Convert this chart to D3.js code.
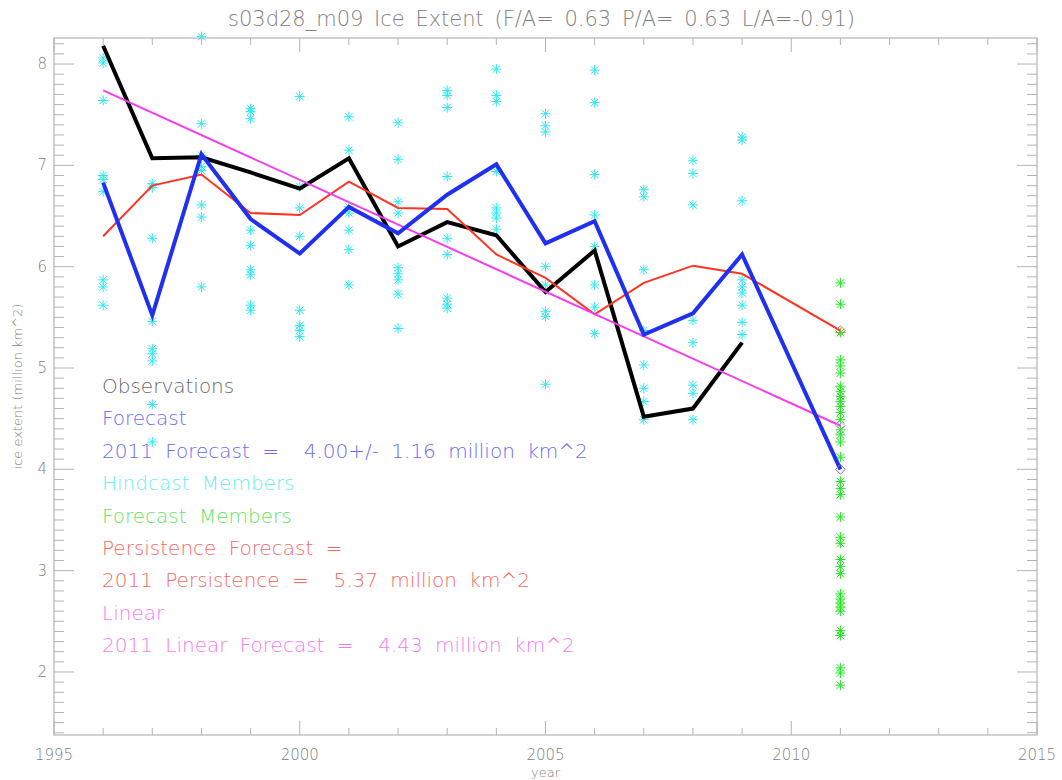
<!DOCTYPE html>
<html>
<head>
<meta charset="utf-8">
<script src="https://cdn.jsdelivr.net/npm/d3@7"></script>
<style>
  body { margin: 0; background: #fff; }
  text { font-family: "DejaVu Sans", sans-serif; font-weight: 200; }
</style>
</head>
<body>
<div id="graph"></div>
<script>
// values
const years = [1996, 1997, 1998, 1999, 2000, 2001, 2002, 2003, 2004, 2005, 2006, 2007, 2008, 2009];
const observed = [8.18, 7.07, 7.08, 6.93, 6.77, 7.07, 6.20, 6.44, 6.31, 5.75, 6.16, 4.52, 4.60, 5.25];
const forecastYears = [1996, 1997, 1998, 1999, 2000, 2001, 2002, 2003, 2004, 2005, 2006, 2007, 2008, 2009, 2011];
const forecast = [6.83, 5.52, 7.11, 6.47, 6.13, 6.59, 6.33, 6.71, 7.01, 6.23, 6.45, 5.33, 5.54, 6.12, 4.00];
const persistence = [6.30, 6.80, 6.91, 6.53, 6.51, 6.84, 6.58, 6.57, 6.12, 5.89, 5.53, 5.84, 6.01, 5.93, 5.37];
const linearYears = [1996, 2011];
const linear = [7.74, 4.43];

const hindcastMembers = [
  [8.06, 8.01, 7.64, 6.90, 6.86, 6.74, 5.87, 5.80, 5.62],
  [6.82, 6.78, 6.28, 5.46, 5.19, 5.14, 5.07, 4.64, 4.27],
  [8.27, 7.41, 7.10, 6.99, 6.95, 6.61, 6.49, 5.80],
  [7.56, 7.53, 7.46, 6.36, 6.21, 5.97, 5.92, 5.62, 5.57],
  [7.68, 6.79, 6.58, 6.30, 5.57, 5.42, 5.37, 5.31],
  [7.48, 7.15, 6.59, 6.53, 6.36, 6.17, 5.82],
  [7.42, 7.06, 6.64, 6.53, 5.99, 5.93, 5.87, 5.73, 5.39],
  [7.74, 7.69, 7.57, 6.89, 6.28, 6.12, 5.69, 5.63, 5.59],
  [7.95, 7.69, 7.63, 6.94, 6.58, 6.53, 6.48, 6.37],
  [7.51, 7.39, 7.33, 6.00, 5.82, 5.56, 5.51, 4.84],
  [7.94, 7.62, 6.91, 6.51, 6.20, 5.82, 5.60, 5.34],
  [6.76, 6.69, 5.97, 5.37, 5.03, 4.80, 4.67, 4.49],
  [7.05, 6.92, 6.61, 5.47, 5.25, 4.83, 4.75, 4.49],
  [7.28, 7.25, 6.65, 5.87, 5.80, 5.74, 5.62, 5.45, 5.33]
];
const forecastYear = 2011;
const forecastMembers = [5.84, 5.63, 5.35, 5.08, 5.02, 4.95, 4.82, 4.77, 4.72, 4.67, 4.62, 4.56, 4.49,
  4.39, 4.34, 4.27, 4.12, 3.88, 3.81, 3.75, 3.53, 3.33, 3.27, 3.11, 3.04, 2.97, 2.77, 2.72, 2.68,
  2.64, 2.60, 2.41, 2.36, 2.04, 1.99, 1.87];

const title = "s03d28_m09 Ice Extent (F/A= 0.63 P/A= 0.63 L/A=-0.91)";
const legendLines = [
  ["Observations", "#6a6a6a"],
  ["Forecast", "#6c6cf0"],
  ["2011 Forecast =  4.00+/- 1.16 million km^2", "#6c6cf0"],
  ["Hindcast Members", "#66f0f0"],
  ["Forecast Members", "#5ee65e"],
  ["Persistence Forecast =", "#f66a62"],
  ["2011 Persistence =  5.37 million km^2", "#f66a62"],
  ["Linear", "#f47af0"],
  ["2011 Linear Forecast =  4.43 million km^2", "#f47af0"]
];

let margin = {top: 38, right: 25, bottom: 45, left: 54},
    width = 1062 - margin.left - margin.right,
    height = 780 - margin.top - margin.bottom;

let svg = d3.select("#graph").append("svg")
    .attr("width", 1062)
    .attr("height", 780);

let x = d3.scaleLinear().domain([1995, 2015]).range([0, width]);
let y = d3.scaleLinear().domain([1.378, 8.257]).range([height, 0]);

let g = svg.append("g")
    .attr("transform", "translate(" + margin.left + "," + margin.top + ")");

// frame and ticks (IDL style, ticks pointing inward on all four sides)
const axisColor = "#b4b4b4";
g.append("rect")
    .attr("width", width).attr("height", height)
    .attr("fill", "none").attr("stroke", axisColor).attr("stroke-width", 1.2);

let xMajor = d3.range(1995, 2016, 5), xMinor = d3.range(1995, 2016, 1);
let yMajor = d3.range(2, 9, 1), yMinor = d3.range(14, 83).map(d => d / 10);

xMinor.forEach(v => {
  let len = xMajor.includes(v) ? 14 : 7;
  g.append("line").attr("x1", x(v)).attr("x2", x(v)).attr("y1", height).attr("y2", height - len)
    .attr("stroke", axisColor);
  g.append("line").attr("x1", x(v)).attr("x2", x(v)).attr("y1", 0).attr("y2", len)
    .attr("stroke", axisColor);
});
yMinor.forEach(v => {
  let len = Math.abs(v - Math.round(v)) < 1e-6 ? 20 : 10;
  g.append("line").attr("x1", 0).attr("x2", len).attr("y1", y(v)).attr("y2", y(v))
    .attr("stroke", axisColor);
  g.append("line").attr("x1", width).attr("x2", width - len).attr("y1", y(v)).attr("y2", y(v))
    .attr("stroke", axisColor);
});

g.selectAll(".xlab").data(xMajor).enter().append("text")
    .attr("x", d => x(d)).attr("y", height + 25)
    .attr("text-anchor", "middle").attr("font-size", 15).attr("fill", "#808080")
    .text(d => d);
g.selectAll(".ylab").data(yMajor).enter().append("text")
    .attr("x", -7).attr("y", d => y(d) + 5)
    .attr("text-anchor", "end").attr("font-size", 15).attr("fill", "#808080")
    .text(d => d);

g.append("text").attr("x", width / 2).attr("y", height + 42)
    .attr("text-anchor", "middle").attr("font-size", 13).attr("fill", "#808080").text("year");
g.append("text")
    .attr("transform", "translate(-32," + (height / 2) + ") rotate(-90)")
    .attr("text-anchor", "middle").attr("font-size", 13).attr("fill", "#808080")
    .text("ice extent (million km^2)");

svg.append("text").attr("x", margin.left + width / 2 - 4).attr("y", 26)
    .attr("text-anchor", "middle").attr("font-size", 21).attr("fill", "#808080")
    .style("word-spacing", "4px")
    .text(title);

// asterisk symbol
function star(sel, cx, cy, color) {
  let r = 5;
  let d = "M" + (cx - r) + "," + cy + "h" + (2 * r) +
          "M" + cx + "," + (cy - r) + "v" + (2 * r) +
          "M" + (cx - r * 0.75) + "," + (cy - r * 0.75) + "l" + (1.5 * r) + "," + (1.5 * r) +
          "M" + (cx - r * 0.75) + "," + (cy + r * 0.75) + "l" + (1.5 * r) + "," + (-1.5 * r);
  sel.append("path").attr("d", d).attr("stroke", color).attr("stroke-width", 1).attr("fill", "none");
}

let pts = g.append("g");
years.forEach((yr, i) => {
  hindcastMembers[i].forEach(v => star(pts, x(yr), y(v), "#2ee8f0"));
});
forecastMembers.forEach(v => star(pts, x(forecastYear), y(v), "#22e622"));

// lines
let line = d3.line().x(d => x(d[0])).y(d => y(d[1]));

g.append("path")
    .attr("d", line(years.map((d, i) => [d, observed[i]])))
    .attr("fill", "none").attr("stroke", "#000").attr("stroke-width", 4).attr("stroke-linejoin", "miter");
g.append("path")
    .attr("d", line(forecastYears.map((d, i) => [d, persistence[i]])))
    .attr("fill", "none").attr("stroke", "#ff3322").attr("stroke-width", 2);
g.append("path")
    .attr("d", line(linearYears.map((d, i) => [d, linear[i]])))
    .attr("fill", "none").attr("stroke", "#f53cf0").attr("stroke-width", 2);
g.append("path")
    .attr("d", line(forecastYears.map((d, i) => [d, forecast[i]])))
    .attr("fill", "none").attr("stroke", "#1f30f0").attr("stroke-width", 4);

// diamonds at the 2011 ends
[[forecast[forecast.length - 1], "#6f6ff2"], [linear[1], "#f77ef2"], [persistence[persistence.length - 1], "#f86a60"]]
  .forEach(([v, c]) => {
    g.append("path")
      .attr("d", d3.symbol(d3.symbolDiamond2, 60)())
      .attr("transform", "translate(" + x(forecastYear) + "," + y(v) + ")")
      .attr("fill", "none").attr("stroke", c).attr("stroke-width", 1);
  });

// legend text
svg.selectAll(".leg").data(legendLines).enter().append("text")
    .attr("x", 102).attr("y", (d, i) => 393 + i * 32.4)
    .attr("font-size", 20).attr("fill", d => d[1])
    .style("white-space", "pre").style("word-spacing", "6px")
    .text(d => d[0]);
</script>
</body>
</html>
